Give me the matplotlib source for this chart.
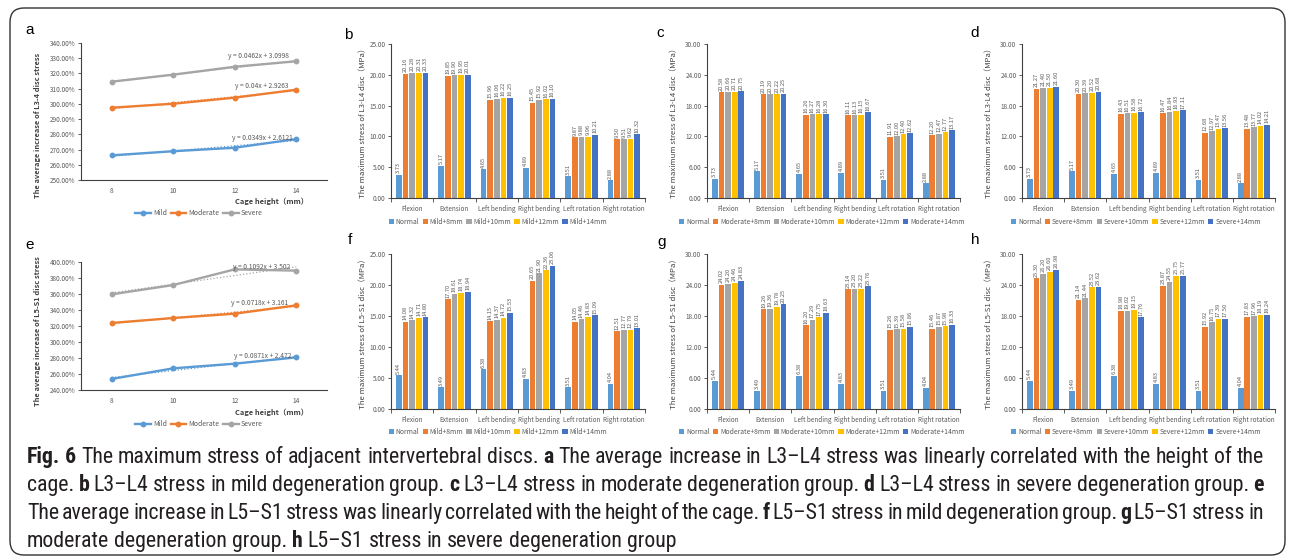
import numpy as np
import matplotlib
matplotlib.use('Agg')
import matplotlib.pyplot as plt
from matplotlib import font_manager
from matplotlib.patches import FancyBboxPatch, Patch
from matplotlib.lines import Line2D
from matplotlib.transforms import IdentityTransform

W, H = 1295, 560

# ------------------------------------------------------------------ data
cage_heights = ['8', '10', '12', '14']
a_mild = [266.2, 268.9, 271.2, 276.9]
a_moderate = [297.5, 300.1, 304.1, 309.3]
a_severe = [314.6, 319.2, 324.4, 328.0]
a_eq_mild = 'y = 0.0349x + 2.6121'
a_eq_moderate = 'y = 0.04x + 2.9263'
a_eq_severe = 'y = 0.0462x + 3.0998'

e_mild = [253.8, 267.1, 272.9, 280.8]
e_moderate = [323.8, 330.0, 335.4, 345.8]
e_severe = [359.6, 371.2, 390.8, 389.2]
e_eq_mild = 'y = 0.0871x + 2.472'
e_eq_moderate = 'y = 0.0718x + 3.161'
e_eq_severe = 'y = 0.1092x + 3.502'

motions = ['Flexion', 'Extension', 'Left bending', 'Right bending',
           'Left rotation', 'Right rotation']

normal_l34 = [3.73, 5.17, 4.65, 4.89, 3.51, 2.88]
mild_l34_8 = [20.16, 19.85, 15.96, 15.45, 9.87, 9.50]
mild_l34_10 = [20.28, 19.90, 16.06, 15.92, 9.88, 9.51]
mild_l34_12 = [20.31, 19.95, 16.22, 16.02, 9.96, 9.62]
mild_l34_14 = [20.33, 20.01, 16.25, 16.10, 10.21, 10.32]

mod_l34_8 = [20.58, 20.19, 16.26, 16.11, 11.91, 12.20]
mod_l34_10 = [20.66, 20.20, 16.27, 16.13, 12.00, 12.47]
mod_l34_12 = [20.71, 20.22, 16.28, 16.15, 12.40, 12.77]
mod_l34_14 = [20.75, 20.25, 16.30, 16.67, 12.62, 13.17]

sev_l34_8 = [21.27, 20.30, 16.43, 16.47, 12.68, 13.48]
sev_l34_10 = [21.40, 20.39, 16.51, 16.84, 12.97, 13.77]
sev_l34_12 = [21.50, 20.52, 16.58, 16.93, 13.47, 14.02]
sev_l34_14 = [21.60, 20.68, 16.72, 17.11, 13.56, 14.21]

normal_l5s1 = [5.44, 3.49, 6.38, 4.83, 3.51, 4.04]
mild_l5s1_8 = [14.08, 17.70, 14.15, 20.65, 14.05, 12.51]
mild_l5s1_10 = [14.32, 18.61, 14.37, 21.90, 14.46, 12.77]
mild_l5s1_12 = [14.71, 18.74, 14.72, 22.36, 14.83, 12.79]
mild_l5s1_14 = [14.80, 18.94, 15.53, 23.06, 15.09, 13.01]

mod_l5s1_8 = [24.02, 19.26, 16.20, 23.14, 15.26, 15.46]
mod_l5s1_10 = [24.20, 19.36, 17.29, 23.20, 15.39, 15.87]
mod_l5s1_12 = [24.46, 19.78, 17.75, 23.22, 15.58, 15.98]
mod_l5s1_14 = [24.83, 20.25, 18.63, 23.76, 15.86, 16.33]

sev_l5s1_8 = [25.30, 21.14, 18.98, 23.87, 15.92, 17.83]
sev_l5s1_10 = [26.20, 21.44, 19.02, 24.55, 16.75, 17.96]
sev_l5s1_12 = [26.60, 23.52, 19.15, 25.75, 17.39, 18.19]
sev_l5s1_14 = [26.98, 23.62, 17.76, 25.77, 17.50, 18.24]

# ------------------------------------------------------------------ style
CHART_FONT = ['Noto Sans CJK SC', 'DejaVu Sans']
plt.rcParams['font.family'] = CHART_FONT
BLUE_L, ORANGE, GRAY, YELLOW, BLUE_D = '#5B9BD5', '#ED7D31', '#A5A5A5', '#FFC000', '#4472C4'
bar_colors = [BLUE_L, ORANGE, GRAY, YELLOW, BLUE_D]
AX_COL = '#404040'
TXT_COL = '#595959'

fig = plt.figure(figsize=(W / 100, H / 100), dpi=100)


def add_ax(x0, x1, y0, y1):
    return fig.add_axes([x0 / W, 1 - y1 / H, (x1 - x0) / W, (y1 - y0) / H])


def ftext(x, y, s, **kw):
    return fig.text(x / W, 1 - y / H, s, **kw)


def style_axes(ax):
    for s in ['top', 'right']:
        ax.spines[s].set_visible(False)
    for s in ['left', 'bottom']:
        ax.spines[s].set_color(AX_COL)
        ax.spines[s].set_linewidth(0.8)
    ax.tick_params(axis='y', direction='out', length=2.5, width=0.6,
                   color=AX_COL, labelsize=4.6, labelcolor=TXT_COL, pad=1.5)


# ------------------------------------------------------------------ line panels
def line_panel(box, ylim, ystep, series, eqs, eq_pos, ylabel, ylab_y, letter, lpos,
               xlab_y, leg_y):
    ax = add_ax(*box)
    style_axes(ax)
    x = np.arange(1, 5)
    cols = [BLUE_L, ORANGE, GRAY]
    for vals, c, eq, (ex, ey) in zip(series, cols, eqs, eq_pos):
        ax.plot(x, vals, '-o', color=c, lw=1.7, ms=3.2, zorder=3)
        k, b = np.polyfit(x, vals, 1)
        ax.plot(x, k * x + b, ':', color=c, lw=0.9, zorder=2)
        ax.text(ex, ey, eq, fontsize=4.8, color=TXT_COL, ha='center', va='center')
    ax.set_xlim(0.5, 4.5)
    ax.set_ylim(*ylim)
    ax.set_yticks(np.arange(ylim[0], ylim[1] + 0.01, ystep))
    ax.yaxis.set_major_formatter(matplotlib.ticker.FuncFormatter(lambda v, p: f'{v:.2f}%'))
    ax.set_xticks(x)
    ax.set_xticklabels(cage_heights)
    ax.tick_params(axis='x', length=0, labelsize=4.8, labelcolor=TXT_COL, pad=5)
    ftext(38, ylab_y, ylabel, rotation=90, fontsize=5.4, color=AX_COL,
          ha='center', va='center', fontweight='bold')
    ftext(308, xlab_y, 'Cage height（mm）', fontsize=5.4, color=AX_COL,
          ha='right', va='center', fontweight='bold')
    ftext(lpos[0], lpos[1], letter, fontsize=11, ha='center', va='center',
          family=['Liberation Sans', 'DejaVu Sans'])
    handles = [Line2D([], [], color=c, lw=1.7, marker='o', ms=3.2) for c in cols]
    fig.legend(handles, ['Mild', 'Moderate', 'Severe'], loc='center',
               bbox_to_anchor=(199 / W, 1 - leg_y / H), ncol=3, frameon=False,
               fontsize=5.0, handlelength=2.2, handletextpad=0.3, columnspacing=0.6,
               borderpad=0, labelcolor=TXT_COL)
    return ax


line_panel((81, 327, 43, 180), (250, 340), 10, [a_mild, a_moderate, a_severe],
           [a_eq_mild, a_eq_moderate, a_eq_severe],
           [(3.45, 277.6), (3.44, 311.8), (3.39, 331.5)],
           'The average increase of L3-4 disc stress', 125, 'a', (30, 30), 201, 213)
line_panel((81, 327, 262, 390), (240, 400), 20, [e_mild, e_moderate, e_severe],
           [e_eq_mild, e_eq_moderate, e_eq_severe],
           [(3.45, 282.5), (3.40, 348.8), (3.44, 393.8)],
           'The average increase of L5-S1 disc stress', 331, 'e', (30, 245), 412, 424)


# ------------------------------------------------------------------ bar panels
def bar_panel(box, ymax, ystep, series, names, ylabel, letter, lpos, leg_y, ylab_dx,
              leg_x):
    ax = add_ax(*box)
    style_axes(ax)
    x = np.arange(len(motions))
    pitch, width = 0.157, 0.135
    for j, (vals, c) in enumerate(zip(series, bar_colors)):
        xs = x + (j - 2) * pitch
        ax.bar(xs, vals, width=width, color=c, zorder=2)
        for xi, v in zip(xs, vals):
            ax.annotate(f'{v:.2f}', (xi, v), xytext=(0, 1.2), textcoords='offset points',
                        rotation=90, ha='center', va='bottom', fontsize=4.1,
                        color=TXT_COL)
    ax.set_xlim(-0.5, len(motions) - 0.5)
    ax.set_ylim(0, ymax)
    ax.set_yticks(np.arange(0, ymax + 0.01, ystep))
    ax.yaxis.set_major_formatter(matplotlib.ticker.FormatStrFormatter('%.2f'))
    ax.set_xticks(x)
    ax.set_xticklabels(motions)
    ax.set_xticks(np.arange(-0.5, len(motions)), minor=True)
    ax.tick_params(axis='x', which='major', length=0, labelsize=4.6,
                   labelcolor=TXT_COL, pad=5)
    ax.tick_params(axis='x', which='minor', length=3, width=0.6, color=AX_COL,
                   direction='out')
    x0, x1, y0, y1 = box
    ftext(x0 - ylab_dx, (y0 + y1) / 2, ylabel, rotation=90, fontsize=5.6,
          color=AX_COL, ha='center', va='center')
    ftext(lpos[0], lpos[1], letter, fontsize=11, ha='center', va='center',
          family=['Liberation Sans', 'DejaVu Sans'])
    handles = [Patch(facecolor=c) for c in bar_colors]
    fig.legend(handles, names, loc='center',
               bbox_to_anchor=(leg_x / W, 1 - leg_y / H), ncol=5, frameon=False,
               fontsize=4.9, handlelength=0.75, handleheight=0.75, handletextpad=0.3,
               columnspacing=0.45, borderpad=0, labelcolor=TXT_COL)
    return ax


mild_names = ['Normal', 'Mild+8mm', 'Mild+10mm', 'Mild+12mm', 'Mild+14mm']
mod_names = ['Normal', 'Moderate+8mm', 'Moderate+10mm', 'Moderate+12mm', 'Moderate+14mm']
sev_names = ['Normal', 'Severe+8mm', 'Severe+10mm', 'Severe+12mm', 'Severe+14mm']

ylab34 = 'The maximum stress of L3-L4 disc（MPa）'
ylab51 = 'The maximum stress of L5-S1 disc（MPa）'

bar_panel((391, 645, 44, 198), 25, 5,
          [normal_l34, mild_l34_8, mild_l34_10, mild_l34_12, mild_l34_14],
          mild_names, ylab34, 'b', (348, 35), 222, 28, 498)
bar_panel((707, 960, 44, 198), 30, 6,
          [normal_l34, mod_l34_8, mod_l34_10, mod_l34_12, mod_l34_14],
          mod_names, ylab34, 'c', (660, 33), 222, 33, 822)
bar_panel((1022, 1275, 44, 198), 30, 6,
          [normal_l34, sev_l34_8, sev_l34_10, sev_l34_12, sev_l34_14],
          sev_names, ylab34, 'd', (975, 33), 222, 33, 1136)
bar_panel((391, 645, 254, 409), 25, 5,
          [normal_l5s1, mild_l5s1_8, mild_l5s1_10, mild_l5s1_12, mild_l5s1_14],
          mild_names, ylab51, 'f', (350, 240), 432, 28, 498)
bar_panel((707, 960, 254, 409), 30, 6,
          [normal_l5s1, mod_l5s1_8, mod_l5s1_10, mod_l5s1_12, mod_l5s1_14],
          mod_names, ylab51, 'g', (662, 242), 432, 33, 822)
bar_panel((1022, 1275, 254, 409), 30, 6,
          [normal_l5s1, sev_l5s1_8, sev_l5s1_10, sev_l5s1_12, sev_l5s1_14],
          sev_names, ylab51, 'h', (975, 240), 432, 33, 1136)

# ------------------------------------------------------------------ border
border = FancyBboxPatch((10, 560 - 555), 1275, 547,
                        boxstyle='round,pad=0,rounding_size=14',
                        transform=IdentityTransform(), facecolor='none',
                        edgecolor='#333333', lw=1.0)
fig.patches.append(border)

# ------------------------------------------------------------------ caption
installed = {f.name for f in font_manager.fontManager.ttflist}
cap_font = 'DejaVu Sans'
for cand in ['Liberation Sans Narrow', 'Roboto Condensed', 'Open Sans Condensed',
             'Noto Sans Condensed', 'Roboto', 'Liberation Sans']:
    if cand in installed:
        cap_font = cand
        break

cap_lines = [
    [('Fig. 6', True), ('The maximum stress of adjacent intervertebral discs.', False),
     ('a', True), ('The average increase in L3–L4 stress was linearly correlated with the height of the', False)],
    [('cage.', False), ('b', True), ('L3–L4 stress in mild degeneration group.', False),
     ('c', True), ('L3–L4 stress in moderate degeneration group.', False),
     ('d', True), ('L3–L4 stress in severe degeneration group.', False), ('e', True)],
    [('The average increase in L5–S1 stress was linearly correlated with the height of the cage.', False),
     ('f', True), ('L5–S1 stress in mild degeneration group.', False),
     ('g', True), ('L5–S1 stress in', False)],
    [('moderate degeneration group.', False), ('h', True),
     ('L5–S1 stress in severe degeneration group', False)],
]
cap_y = [458, 486, 514, 542]
cap_x0, cap_x1 = 27, 1264

renderer = fig.canvas.get_renderer()


def measure(s, size, bold):
    t = fig.text(0, 0, s, fontsize=size, family=cap_font,
                 fontweight='bold' if bold else 'normal')
    w = t.get_window_extent(renderer).width
    t.remove()
    return w


def words_of(line):
    out = []
    for chunk, bold in line:
        for wd in chunk.split(' '):
            if wd:
                out.append((wd, bold))
    return out


ref = 10.0
l1 = words_of(cap_lines[0])
sp_ref = measure('x x', ref, False) - measure('xx', ref, False)
nat = sum(measure(w, ref, b) for w, b in l1) + sp_ref * (len(l1) - 1)
cap_size = ref * (cap_x1 - cap_x0) / nat
sp = sp_ref * cap_size / ref

for i, (line, yc) in enumerate(zip(cap_lines, cap_y)):
    wds = words_of(line)
    widths = [measure(w, cap_size, b) for w, b in wds]
    if i < 3:
        gap = (cap_x1 - cap_x0 - sum(widths)) / (len(wds) - 1)
    else:
        gap = sp
    x = cap_x0
    for (w, b), wd in zip(wds, widths):
        ftext(x, yc + 5, w, fontsize=cap_size, family=cap_font,
              fontweight='bold' if b else 'normal', ha='left', va='baseline',
              color='#231f20')
        x += wd + gap

fig.savefig('out.png', dpi=100)
